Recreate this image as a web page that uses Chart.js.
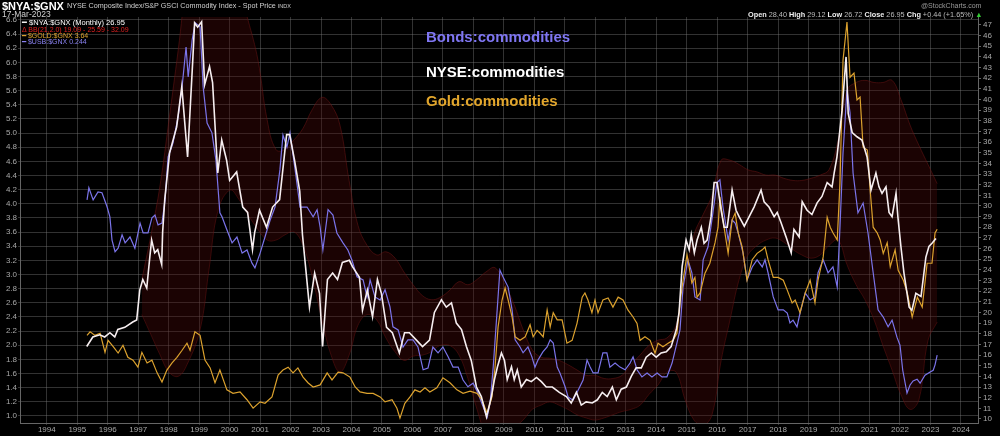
<!DOCTYPE html>
<html>
<head>
<meta charset="utf-8">
<script src="https://cdn.jsdelivr.net/npm/chart.js@4.4.1/dist/chart.umd.min.js"></script>
<style>
  body { margin: 0; background: #000; }
  #wrap { position: relative; width: 1000px; height: 436px; overflow: hidden; font-family: "Liberation Sans", Arial, sans-serif; }
  #c { position: absolute; left: 0; top: 0; }
  .t { position: absolute; white-space: nowrap; line-height: 1; }
  .note { font-size: 15px; font-weight: bold; left: 426px; }
</style>
</head>
<body>
<div id="wrap">
  <canvas id="c" width="1000" height="436"></canvas>

  <div class="t" style="left:2px;top:1px;font-size:11px;font-weight:bold;color:#fff">$NYA:$GNX</div>
  <div class="t" style="left:67px;top:2px;font-size:7.2px;color:#d0d0d0">NYSE Composite Index/S&amp;P GSCI Commodity Index - Spot Price <span style="font-size:5.5px">INDX</span></div>
  <div class="t" style="left:2px;top:10px;font-size:8.5px;color:#d0d0d0">17-Mar-2023</div>
  <div class="t" style="left:921px;top:2px;font-size:7px;color:#999">@StockCharts.com</div>
  <div class="t" style="left:748px;top:11px;font-size:7.3px;color:#bbb"><b style="color:#eee">Open</b> 28.40 <b style="color:#eee">High</b> 29.12 <b style="color:#eee">Low</b> 26.72 <b style="color:#eee">Close</b> 26.95 <b style="color:#eee">Chg</b> +0.44 (+1.65%) <span style="color:#3c3">▲</span></div>

  <div class="t" style="left:22px;top:19px;font-size:7.5px;color:#fff">━ $NYA:$GNX (Monthly) 26.95</div>
  <div class="t" style="left:22px;top:25.5px;font-size:7px;color:#e02020">Δ BB(21,2.0) 19.09 - 25.59 - 32.09</div>
  <div class="t" style="left:22px;top:31.5px;font-size:7px;color:#dca22e">━ $GOLD:$GNX 3.64</div>
  <div class="t" style="left:22px;top:37.5px;font-size:7px;color:#8a82f2">━ $USB:$GNX 0.244</div>

  <div class="t note" style="top:29px;color:#7f76f2">Bonds:commodities</div>
  <div class="t note" style="top:64px;color:#ffffff">NYSE:commodities</div>
  <div class="t note" style="top:93px;color:#e2a62c">Gold:commodities</div>
</div>
<script>
// tick labels on the year axis
const yearLabels = [1994,1995,1996,1997,1998,1999,2000,2001,2002,2003,2004,2005,2006,2007,2008,
  2009,2010,2011,2012,2013,2014,2015,2016,2017,2018,2019,2020,2021,2022,2023,2024];

// $NYA:$GNX monthly (right axis)
const whiteYears = [
  1995.31,1995.51,1995.74,1995.90,1996.07,1996.23,1996.33,1996.56,1996.82,1996.95,
  1997.05,1997.15,1997.28,1997.38,1997.44,1997.54,1997.64,1997.77,1997.80,1997.87,
  1998.03,1998.26,1998.43,1998.62,1998.79,1998.85,1998.95,1999.08,1999.18,1999.34,
  1999.44,1999.61,1999.74,1999.90,2000.00,2000.23,2000.43,2000.59,2000.75,2000.82,
  2000.98,2001.21,2001.41,2001.64,2001.87,2001.97,2002.13,2002.30,2002.39,2002.62,
  2002.79,2002.95,2003.05,2003.21,2003.38,2003.54,2003.70,2003.93,2004.03,2004.26,
  2004.36,2004.52,2004.69,2004.85,2004.98,2005.15,2005.34,2005.57,2005.74,2005.90,
  2006.13,2006.33,2006.56,2006.72,2006.95,2007.11,2007.28,2007.44,2007.61,2007.77,
  2007.93,2008.10,2008.26,2008.43,2008.59,2008.69,2008.79,2008.92,2009.02,2009.11,
  2009.25,2009.34,2009.44,2009.57,2009.74,2009.90,2010.07,2010.23,2010.39,2010.59,
  2010.82,2011.05,2011.21,2011.38,2011.54,2011.70,2011.90,2012.07,2012.23,2012.39,
  2012.56,2012.69,2012.85,2013.02,2013.18,2013.34,2013.51,2013.67,2013.84,2014.00,
  2014.16,2014.33,2014.49,2014.66,2014.75,2014.85,2014.98,2015.08,2015.15,2015.25,
  2015.34,2015.48,2015.57,2015.67,2015.80,2015.90,2016.00,2016.13,2016.23,2016.33,
  2016.49,2016.62,2016.72,2016.89,2017.05,2017.21,2017.44,2017.54,2017.70,2017.87,
  2017.97,2018.10,2018.26,2018.43,2018.52,2018.69,2018.79,2018.95,2019.11,2019.28,
  2019.44,2019.61,2019.77,2019.84,2019.93,2020.10,2020.23,2020.30,2020.43,2020.59,
  2020.75,2020.92,2021.05,2021.21,2021.31,2021.41,2021.54,2021.64,2021.74,2021.87,
  2021.93,2022.03,2022.13,2022.30,2022.39,2022.52,2022.69,2022.85,2022.95,2023.05,
  2023.18];
const whiteVals = [
  16.8,17.7,17.9,17.7,18.1,17.7,18.4,18.6,19.1,19.3,
  22.1,23.1,22.3,25.2,26.8,25.6,25.9,24.5,27.5,30.6,
  35.0,37.4,41.2,34.6,43.7,47.2,46.8,47.3,41.4,43.1,
  41.6,33.1,36.2,34.3,32.4,33.2,29.9,29.4,25.9,27.5,
  29.6,28.0,29.9,30.6,36.7,36.7,34.3,31.4,27.3,20.5,
  23.7,21.8,16.8,23.1,23.7,23.1,24.7,24.9,24.3,23.3,
  20.2,22.1,19.6,23.1,21.8,18.6,18.1,16.2,18.1,18.1,
  17.4,16.8,17.4,20.0,21.2,20.5,20.9,19.0,18.4,16.8,
  15.5,13.0,12.1,10.2,12.1,13.7,14.9,16.2,15.5,13.7,
  14.9,13.7,14.6,13.0,13.7,13.5,13.9,13.5,13.0,13.0,
  12.5,12.1,11.5,12.5,11.3,11.6,11.5,11.8,12.5,12.1,
  13.0,11.8,12.8,13.0,14.0,14.8,14.8,15.8,16.2,15.8,
  16.2,16.3,16.8,18.4,20.0,24.3,26.8,25.9,27.3,25.6,
  26.8,28.0,26.5,26.8,29.0,32.2,32.2,29.6,28.0,28.0,
  31.5,29.6,29.0,28.1,29.0,29.9,31.5,30.4,29.9,29.0,
  29.4,28.4,27.1,25.6,27.8,27.1,30.4,29.6,29.2,30.3,
  30.9,32.2,31.8,33.1,34.6,39.0,44.0,38.7,36.9,36.5,
  36.2,34.6,31.5,33.1,31.8,31.2,31.8,29.4,29.0,31.2,
  29.0,26.2,23.7,20.5,20.2,21.8,21.5,25.2,26.2,26.5,
  26.95];

// $GOLD:$GNX (left axis)
const goldYears = [
  1995.32,1995.42,1995.58,1995.75,1995.91,1996.01,1996.18,1996.34,1996.50,1996.66,
  1996.83,1996.99,1997.12,1997.29,1997.45,1997.62,1997.78,1997.94,1998.11,1998.27,
  1998.44,1998.60,1998.70,1998.86,1999.03,1999.19,1999.36,1999.52,1999.68,1999.91,
  2000.11,2000.34,2000.57,2000.77,2001.00,2001.16,2001.39,2001.59,2001.75,2001.92,
  2002.08,2002.24,2002.41,2002.57,2002.74,2002.97,2003.20,2003.36,2003.56,2003.72,
  2003.95,2004.12,2004.28,2004.51,2004.71,2004.94,2005.10,2005.33,2005.49,2005.59,
  2005.75,2005.92,2006.08,2006.25,2006.41,2006.57,2006.80,2007.00,2007.23,2007.46,
  2007.66,2007.89,2008.12,2008.28,2008.45,2008.61,2008.71,2008.81,2008.94,2009.04,
  2009.14,2009.27,2009.37,2009.53,2009.70,2009.86,2009.96,2010.09,2010.19,2010.29,
  2010.42,2010.52,2010.62,2010.75,2010.91,2011.07,2011.24,2011.40,2011.57,2011.66,
  2011.76,2011.89,2011.99,2012.09,2012.25,2012.42,2012.58,2012.75,2012.91,2013.07,
  2013.24,2013.37,2013.47,2013.63,2013.80,2013.96,2014.06,2014.22,2014.39,2014.55,
  2014.68,2014.78,2014.88,2015.01,2015.17,2015.27,2015.34,2015.44,2015.60,2015.76,
  2015.93,2016.03,2016.09,2016.19,2016.36,2016.49,2016.59,2016.69,2016.82,2016.98,
  2017.15,2017.31,2017.48,2017.57,2017.67,2017.84,2018.00,2018.17,2018.30,2018.46,
  2018.56,2018.72,2018.89,2019.05,2019.21,2019.31,2019.48,2019.61,2019.71,2019.80,
  2019.94,2020.03,2020.13,2020.26,2020.36,2020.49,2020.59,2020.69,2020.79,2020.93,
  2021.02,2021.12,2021.25,2021.35,2021.45,2021.58,2021.68,2021.84,2021.94,2022.11,
  2022.24,2022.40,2022.57,2022.73,2022.89,2023.05,2023.15,2023.22];
const goldVals = [
  2.14,2.19,2.14,2.17,1.90,2.07,1.98,1.89,2.00,1.83,
  1.79,1.69,1.90,1.75,1.79,1.61,1.48,1.65,1.75,1.83,
  1.93,2.03,1.93,2.19,2.14,1.79,1.68,1.47,1.65,1.37,
  1.32,1.34,1.23,1.11,1.20,1.18,1.27,1.58,1.65,1.69,
  1.61,1.68,1.55,1.47,1.41,1.44,1.61,1.51,1.62,1.61,
  1.55,1.41,1.34,1.32,1.32,1.27,1.20,1.23,1.11,0.97,
  1.18,1.27,1.37,1.34,1.40,1.34,1.40,1.54,1.47,1.37,
  1.32,1.35,1.32,1.23,1.04,1.27,1.69,2.26,2.64,2.81,
  2.64,2.40,2.12,2.07,2.12,2.29,2.12,2.21,2.17,2.12,
  2.50,2.26,2.46,2.36,2.36,2.03,2.07,2.31,2.68,2.74,
  2.64,2.46,2.64,2.46,2.64,2.67,2.54,2.68,2.64,2.50,
  2.40,2.31,2.07,2.12,2.07,1.89,2.03,1.98,2.03,2.07,
  2.17,2.60,2.92,3.28,2.88,2.96,2.68,2.74,3.02,3.16,
  3.45,3.67,4.10,3.77,3.30,3.77,3.87,3.59,3.39,2.92,
  3.21,3.30,3.35,3.39,3.21,2.96,2.96,2.92,2.78,2.60,
  2.64,2.46,2.74,2.92,2.60,2.92,3.25,3.81,3.67,3.59,
  3.49,4.29,6.03,6.57,5.79,5.85,5.47,5.51,4.80,4.76,
  4.20,3.67,3.59,3.49,3.30,3.45,3.11,3.35,3.06,2.92,
  2.74,2.40,2.68,2.54,3.16,3.16,3.59,3.64];

// $USB:$GNX (own scale, not shown)
const blueYears = [
  1995.32,1995.38,1995.52,1995.68,1995.81,1995.98,1996.07,1996.14,1996.24,1996.34,
  1996.47,1996.57,1996.73,1996.89,1997.06,1997.16,1997.32,1997.45,1997.55,1997.65,
  1997.78,1997.88,1997.98,1998.14,1998.31,1998.44,1998.57,1998.64,1998.77,1998.87,
  1999.03,1999.13,1999.26,1999.42,1999.55,1999.68,1999.75,1999.85,1999.95,2000.08,
  2000.24,2000.41,2000.57,2000.73,2000.83,2001.00,2001.16,2001.33,2001.49,2001.65,
  2001.75,2001.88,2001.98,2002.15,2002.31,2002.54,2002.74,2002.87,2002.97,2003.06,
  2003.23,2003.39,2003.52,2003.72,2003.88,2004.01,2004.18,2004.38,2004.51,2004.61,
  2004.77,2004.94,2005.10,2005.26,2005.36,2005.53,2005.69,2005.85,2006.02,2006.18,
  2006.35,2006.51,2006.67,2006.84,2007.00,2007.17,2007.33,2007.50,2007.66,2007.82,
  2007.99,2008.15,2008.32,2008.45,2008.55,2008.65,2008.78,2008.87,2008.97,2009.14,
  2009.27,2009.37,2009.53,2009.63,2009.79,2009.92,2010.02,2010.12,2010.28,2010.42,
  2010.52,2010.62,2010.75,2010.84,2011.01,2011.11,2011.27,2011.44,2011.60,2011.73,
  2011.83,2011.93,2012.09,2012.25,2012.38,2012.48,2012.65,2012.81,2012.98,2013.14,
  2013.24,2013.37,2013.53,2013.70,2013.86,2014.03,2014.19,2014.35,2014.52,2014.68,
  2014.78,2014.88,2015.04,2015.17,2015.27,2015.44,2015.54,2015.70,2015.86,2015.99,
  2016.09,2016.19,2016.36,2016.49,2016.59,2016.69,2016.85,2016.98,2017.15,2017.31,
  2017.48,2017.57,2017.67,2017.84,2018.00,2018.17,2018.30,2018.39,2018.49,2018.62,
  2018.72,2018.89,2019.05,2019.21,2019.31,2019.48,2019.64,2019.80,2019.94,2020.03,
  2020.13,2020.26,2020.36,2020.46,2020.62,2020.79,2020.95,2021.12,2021.28,2021.45,
  2021.61,2021.74,2021.90,2022.00,2022.09,2022.23,2022.33,2022.43,2022.56,2022.66,
  2022.82,2022.99,2023.09,2023.15,2023.22];
const blueVals = [
  0.591,0.618,0.591,0.609,0.607,0.575,0.553,0.501,0.475,0.483,
  0.513,0.495,0.508,0.483,0.539,0.517,0.517,0.551,0.557,0.535,
  0.539,0.591,0.687,0.718,0.777,0.844,0.933,0.866,0.949,0.987,
  0.978,0.844,0.763,0.741,0.680,0.562,0.553,0.535,0.517,0.495,
  0.508,0.472,0.479,0.450,0.439,0.472,0.508,0.546,0.575,0.658,
  0.736,0.709,0.741,0.658,0.575,0.575,0.553,0.569,0.530,0.479,
  0.569,0.557,0.517,0.495,0.479,0.457,0.419,0.412,0.374,0.412,
  0.374,0.367,0.390,0.352,0.307,0.300,0.262,0.278,0.278,0.262,
  0.211,0.215,0.262,0.249,0.262,0.240,0.217,0.217,0.188,0.173,
  0.181,0.159,0.128,0.105,0.137,0.217,0.345,0.434,0.419,0.396,
  0.345,0.278,0.262,0.249,0.262,0.240,0.217,0.233,0.251,0.262,
  0.278,0.271,0.217,0.204,0.173,0.150,0.143,0.166,0.188,0.233,
  0.217,0.204,0.204,0.249,0.249,0.217,0.226,0.217,0.211,0.226,
  0.240,0.211,0.195,0.204,0.195,0.204,0.195,0.195,0.226,0.271,
  0.300,0.396,0.457,0.428,0.374,0.367,0.457,0.486,0.562,0.629,
  0.636,0.575,0.501,0.546,0.539,0.517,0.472,0.412,0.441,0.457,
  0.441,0.457,0.428,0.374,0.345,0.345,0.338,0.316,0.322,0.307,
  0.338,0.383,0.367,0.374,0.428,0.457,0.428,0.441,0.396,0.530,
  0.696,0.837,0.786,0.651,0.562,0.584,0.517,0.428,0.345,0.329,
  0.307,0.322,0.284,0.266,0.210,0.159,0.177,0.186,0.190,0.181,
  0.199,0.206,0.210,0.222,0.244];

// BB(21,2.0) on $NYA:$GNX (right axis)
const bandYears = [
  1997.12,1997.42,1997.72,1998.01,1998.31,1998.60,1999.03,1999.32,1999.62,2000.01,
  2000.31,2000.60,2000.93,2001.23,2001.52,2001.82,2002.11,2002.41,2002.70,2003.03,
  2003.33,2003.62,2003.92,2004.21,2004.51,2004.83,2005.13,2005.43,2005.72,2006.02,
  2006.32,2006.61,2006.90,2007.23,2007.53,2007.82,2008.12,2008.41,2008.71,2009.04,
  2009.34,2009.63,2009.93,2010.22,2010.51,2010.81,2011.10,2011.40,2011.70,2011.99,
  2012.29,2012.58,2012.88,2013.17,2013.47,2013.76,2014.06,2014.35,2014.65,2014.95,
  2015.24,2015.54,2015.83,2016.13,2016.42,2016.72,2017.01,2017.31,2017.60,2017.90,
  2018.19,2018.49,2018.78,2019.08,2019.38,2019.67,2019.97,2020.26,2020.56,2020.85,
  2021.15,2021.44,2021.74,2022.03,2022.33,2022.62,2022.92,2023.22];
const bandUpper = [
  23.1,27.3,32.0,38.1,44.6,51.2,56.9,57.8,55.9,53.1,
  50.3,47.5,43.7,38.1,35.3,35.3,36.2,37.3,39.0,40.2,
  39.5,37.6,32.4,28.2,26.3,25.4,25.7,25.1,23.8,22.6,
  21.6,21.2,21.4,22.1,22.9,22.6,23.1,23.8,24.2,22.6,
  20.7,18.4,16.5,15.8,15.7,15.5,15.1,14.6,14.1,14.1,
  13.8,13.8,14.1,15.1,16.0,16.9,17.4,17.6,18.8,23.1,
  27.3,29.2,31.0,34.3,34.3,33.9,33.4,33.2,32.9,32.9,
  32.6,32.4,32.4,32.6,32.9,33.4,36.2,40.9,41.6,41.8,
  41.6,41.6,41.8,40.0,37.6,35.7,33.9,32.1];
const bandLower = [
  19.8,17.9,16.0,14.4,14.0,15.1,18.4,24.0,29.6,31.5,
  30.6,29.2,27.8,26.8,26.8,27.3,27.6,26.3,23.5,19.3,
  16.0,14.4,16.0,18.8,19.8,19.3,17.6,16.3,15.5,15.9,
  16.0,16.3,16.9,16.9,16.0,13.8,10.9,8.5,7.6,8.5,
  9.2,9.9,10.9,11.3,11.6,11.3,10.9,10.4,10.1,9.9,
  10.1,10.4,10.7,10.9,11.3,12.3,13.2,14.4,14.4,11.8,
  9.9,9.4,10.4,15.5,19.3,23.1,25.4,26.3,26.8,27.0,
  26.6,25.9,25.4,25.1,25.4,26.3,26.8,24.5,22.6,21.2,
  19.3,16.9,14.6,12.3,10.9,11.8,17.4,19.1];

function pts(xs, ys) {
  return xs.map((x, i) => ({ x: x, y: ys[i] }));
}

const tickFont = { family: "Liberation Sans", size: 8 };
const gridColor = "rgba(120,120,120,0.42)";

new Chart(document.getElementById("c"), {
  type: "line",
  data: {
    datasets: [
      { label: "$NYA:$GNX", data: pts(whiteYears, whiteVals), yAxisID: "yR",
        borderColor: "#f6eef0", borderWidth: 1.6, pointRadius: 0, order: 0 },
      { label: "$GOLD:$GNX", data: pts(goldYears, goldVals), yAxisID: "yL",
        borderColor: "#dca22e", borderWidth: 1.2, pointRadius: 0, order: 1 },
      { label: "$USB:$GNX", data: pts(blueYears, blueVals), yAxisID: "yB",
        borderColor: "#7b74ea", borderWidth: 1.2, pointRadius: 0, order: 2 },
      { label: "BB upper", data: pts(bandYears, bandUpper), yAxisID: "yR",
        borderColor: "rgba(110,22,22,0.5)", borderWidth: 1, pointRadius: 0, tension: 0.4,
        backgroundColor: "rgba(75,8,8,0.36)", fill: "+1", order: 3 },
      { label: "BB lower", data: pts(bandYears, bandLower), yAxisID: "yR",
        borderColor: "rgba(110,22,22,0.5)", borderWidth: 1, pointRadius: 0, tension: 0.4,
        fill: false, order: 4 }
    ]
  },
  options: {
    responsive: false,
    animation: false,
    devicePixelRatio: 1,
    layout: { padding: { top: 17, left: 0, right: 0, bottom: 0 } },
    plugins: { legend: { display: false }, tooltip: { enabled: false } },
    scales: {
      x: {
        type: "linear", min: 1993.12, max: 2024.56,
        afterFit: s => { s.height = 13; },
        border: { color: "#666" },
        grid: { color: gridColor, tickLength: 2 },
        ticks: {
          stepSize: 0.5, includeBounds: false, autoSkip: false, maxRotation: 0,
          padding: 0, color: "#a8a8a8", font: tickFont,
          callback: v => yearLabels.includes(v) ? String(v) : null
        }
      },
      yL: {
        type: "linear", position: "left", min: 0.901, max: 6.642,
        afterFit: s => { s.width = 20; },
        border: { color: "#666" },
        grid: { color: gridColor, tickLength: 2 },
        ticks: {
          stepSize: 0.2, includeBounds: false, autoSkip: false, padding: 1,
          color: "#a8a8a8", font: tickFont, callback: v => v.toFixed(1)
        }
      },
      yR: {
        type: "linear", position: "right", min: 9.62, max: 47.75,
        afterFit: s => { s.width = 22; },
        border: { color: "#666" },
        grid: { drawOnChartArea: false, color: "#666", tickLength: 3 },
        ticks: {
          stepSize: 1, includeBounds: false, autoSkip: false, padding: 2,
          color: "#a8a8a8", font: tickFont, callback: v => String(Math.round(v))
        }
      },
      yB: { type: "linear", display: false, min: 0.092, max: 1.0 }
    }
  }
});
</script>
</body>
</html>
